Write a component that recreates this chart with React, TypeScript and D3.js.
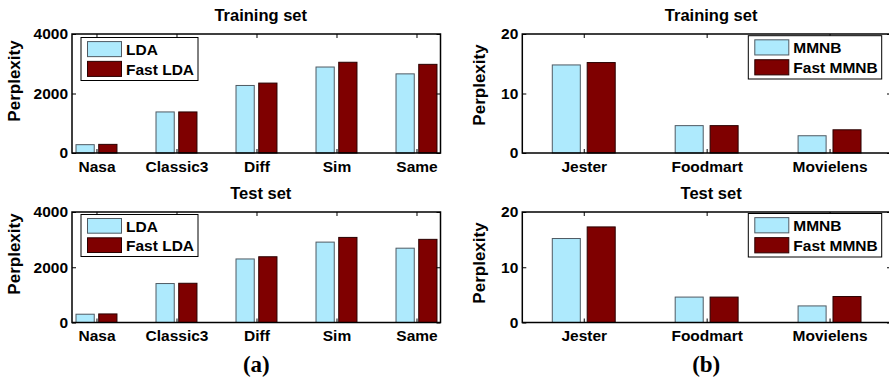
import { useEffect, useRef } from "react";
import * as d3 from "d3";

// LDA datasets (panel a)
const ldaCategories = ["Nasa", "Classic3", "Diff", "Sim", "Same"];
const ldaTrain = [280, 1380, 2270, 2890, 2660];
const fastLdaTrain = [290, 1380, 2350, 3050, 2980];
const ldaTest = [300, 1410, 2300, 2910, 2690];
const fastLdaTest = [310, 1420, 2380, 3080, 3010];
const ldaTicks = [0, 2000, 4000];
const ldaLegend = ["LDA", "Fast LDA"];

// MMNB datasets (panel b)
const mmnbCategories = ["Jester", "Foodmart", "Movielens"];
const mmnbTrain = [14.8, 4.6, 2.9];
const fastMmnbTrain = [15.2, 4.6, 3.9];
const mmnbTest = [15.2, 4.6, 3.0];
const fastMmnbTest = [17.3, 4.6, 4.7];
const mmnbTicks = [0, 10, 20];
const mmnbLegend = ["MMNB", "Fast MMNB"];

const W = 889;
const H = 379;
const FONT = "'Liberation Sans', Arial, Helvetica, sans-serif";
const colors = ["#aeeafd", "#7f0000"];
const edges = ["#4f5a63", "#2a0000"];

interface Panel {
  title: string;
  categories: string[];
  series: number[][];
  labels: string[];
  yTicks: number[];
  xDomain: [number, number];
  left: number;
  right: number;
  top: number;
  bottom: number;
  yLabelX: number;
  yLabelY: number;
  legend: { x: number; y: number; w: number; h: number };
}

const panels: Panel[] = [
  {
    title: "Training set",
    categories: ldaCategories,
    series: [ldaTrain, fastLdaTrain],
    labels: ldaLegend,
    yTicks: ldaTicks,
    xDomain: [0.694, 5.3],
    left: 72,
    right: 440.5,
    top: 34,
    bottom: 153,
    yLabelX: 19.5,
    yLabelY: 81,
    legend: { x: 81, y: 37.5, w: 117, h: 43 },
  },
  {
    title: "Test set",
    categories: ldaCategories,
    series: [ldaTest, fastLdaTest],
    labels: ldaLegend,
    yTicks: ldaTicks,
    xDomain: [0.694, 5.3],
    left: 72,
    right: 440.5,
    top: 212,
    bottom: 322.5,
    yLabelX: 19.5,
    yLabelY: 254,
    legend: { x: 81, y: 214.5, w: 117, h: 42 },
  },
  {
    title: "Training set",
    categories: mmnbCategories,
    series: [mmnbTrain, fastMmnbTrain],
    labels: mmnbLegend,
    yTicks: mmnbTicks,
    xDomain: [0.5, 3.5],
    left: 522.3,
    right: 891,
    top: 34,
    bottom: 153,
    yLabelX: 485,
    yLabelY: 85,
    legend: { x: 748.3, y: 35.7, w: 133.4, h: 43.3 },
  },
  {
    title: "Test set",
    categories: mmnbCategories,
    series: [mmnbTest, fastMmnbTest],
    labels: mmnbLegend,
    yTicks: mmnbTicks,
    xDomain: [0.5, 3.5],
    left: 522.3,
    right: 891,
    top: 212,
    bottom: 322.5,
    yLabelX: 485,
    yLabelY: 263,
    legend: { x: 748.3, y: 213.5, w: 133.4, h: 43.5 },
  },
];

export default function App() {
  const svgRef = useRef<SVGSVGElement>(null);

  useEffect(() => {
    if (!svgRef.current) return;
    document.body.style.margin = "0";

    const svg = d3.select(svgRef.current);
    svg.selectAll("*").remove();
    svg.append("rect").attr("width", W).attr("height", H).attr("fill", "white");

    panels.forEach((p) => {
      const x = d3.scaleLinear().domain(p.xDomain).range([p.left, p.right]);
      const y = d3
        .scaleLinear()
        .domain([0, p.yTicks[p.yTicks.length - 1]])
        .range([p.bottom, p.top]);
      const idx = p.categories.map((_, i) => i + 1);
      const g = svg.append("g");

      // bars
      const barW = 0.228;
      const offsets = [-0.142, 0.142];
      p.series.forEach((vals, s) => {
        g.selectAll(null)
          .data(vals)
          .enter()
          .append("rect")
          .attr("x", (_, i) => x(i + 1 + offsets[s] - barW / 2))
          .attr("width", (_, i) => x(i + 1 + barW / 2) - x(i + 1 - barW / 2))
          .attr("y", (d) => y(d))
          .attr("height", (d) => y(0) - y(d))
          .attr("fill", colors[s])
          .attr("stroke", edges[s])
          .attr("stroke-width", 1);
      });

      // axes with inward ticks
      const xb = g
        .append("g")
        .attr("transform", `translate(0,${p.bottom})`)
        .call(
          d3
            .axisBottom(x)
            .tickValues(idx)
            .tickFormat((d) => p.categories[(d as number) - 1])
            .tickSizeInner(-4)
            .tickSizeOuter(0)
            .tickPadding(7.5)
        );
      g.append("g")
        .attr("transform", `translate(0,${p.top})`)
        .call(
          d3.axisTop(x).tickValues(idx).tickFormat(() => "").tickSizeInner(-4).tickSizeOuter(0)
        );
      const yl = g
        .append("g")
        .attr("transform", `translate(${p.left},0)`)
        .call(
          d3
            .axisLeft(y)
            .tickValues(p.yTicks)
            .tickFormat(d3.format("d"))
            .tickSizeInner(-4)
            .tickSizeOuter(0)
            .tickPadding(4)
        );
      g.append("g")
        .attr("transform", `translate(${p.right},0)`)
        .call(
          d3.axisRight(y).tickValues(p.yTicks).tickFormat(() => "").tickSizeInner(-4).tickSizeOuter(0)
        );

      g.selectAll(".domain").remove();
      g.selectAll(".tick line").attr("stroke", "#000").attr("stroke-width", 1);
      [xb, yl].forEach((a) =>
        a
          .selectAll("text")
          .attr("font-family", FONT)
          .attr("font-weight", "bold")
          .attr("font-size", 15.5)
          .attr("fill", "#000")
      );

      // frame
      g.append("rect")
        .attr("x", p.left)
        .attr("y", p.top)
        .attr("width", p.right - p.left)
        .attr("height", p.bottom - p.top)
        .attr("fill", "none")
        .attr("stroke", "#000")
        .attr("stroke-width", 1.5);

      // title
      g.append("text")
        .attr("x", (p.left + p.right) / 2 + 4.5)
        .attr("y", p.top - 13.5)
        .attr("text-anchor", "middle")
        .attr("font-family", FONT)
        .attr("font-weight", "bold")
        .attr("font-size", 16.5)
        .text(p.title);

      // y label
      g.append("text")
        .attr("transform", `translate(${p.yLabelX},${p.yLabelY}) rotate(-90)`)
        .attr("text-anchor", "middle")
        .attr("font-family", FONT)
        .attr("font-weight", "bold")
        .attr("font-size", 17)
        .text("Perplexity");

      // legend
      const L = p.legend;
      const lg = g.append("g");
      lg.append("rect")
        .attr("x", L.x)
        .attr("y", L.y)
        .attr("width", L.w)
        .attr("height", L.h)
        .attr("fill", "white")
        .attr("stroke", "#000")
        .attr("stroke-width", 1);
      p.labels.forEach((lab, i) => {
        const cy = L.y + L.h * (0.27 + 0.46 * i);
        const sh = L.h * 0.35;
        lg.append("rect")
          .attr("x", L.x + 6.5)
          .attr("y", cy - sh / 2)
          .attr("width", 34)
          .attr("height", sh)
          .attr("fill", colors[i])
          .attr("stroke", edges[i])
          .attr("stroke-width", 1);
        lg.append("text")
          .attr("x", L.x + 45)
          .attr("y", cy + 5.8)
          .attr("font-family", FONT)
          .attr("font-weight", "bold")
          .attr("font-size", 15.5)
          .text(lab);
      });
    });

    // sub-figure labels
    [
      { t: "(a)", cx: 256.3 },
      { t: "(b)", cx: 706.2 },
    ].forEach((s) =>
      svg
        .append("text")
        .attr("x", s.cx)
        .attr("y", 372)
        .attr("text-anchor", "middle")
        .attr("font-family", "'Liberation Serif', 'Times New Roman', serif")
        .attr("font-weight", "bold")
        .attr("font-size", 23)
        .text(s.t)
    );
  }, []);

  return <svg ref={svgRef} width={W} height={H} style={{ display: "block" }} />;
}
